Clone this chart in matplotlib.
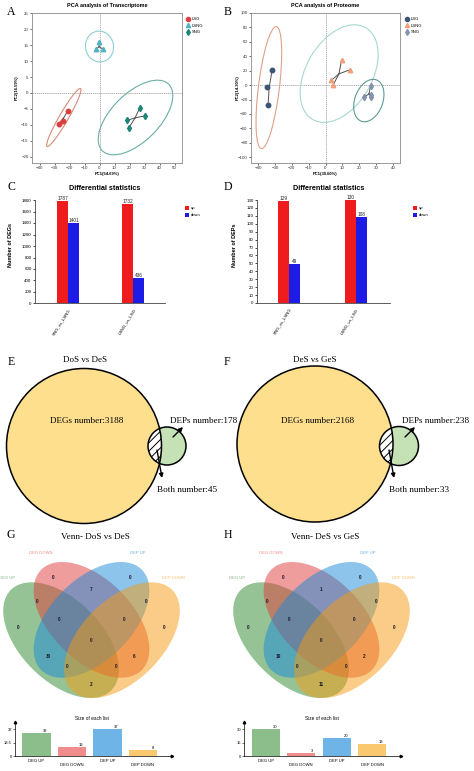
import numpy as np
import matplotlib
matplotlib.use('Agg')
import matplotlib.pyplot as plt
from matplotlib.patches import Ellipse, Circle
from matplotlib.transforms import ScaledTranslation
from matplotlib.lines import Line2D

plt.rcParams['font.family'] = ['Liberation Sans', 'DejaVu Sans']
plt.rcParams['hatch.linewidth'] = 0.7
SERIF = ['Liberation Serif', 'DejaVu Serif']

W, H = 474, 771

# ---------------- data ----------------
groups = ['LSG', 'LSNG', 'SNG']

# A: PCA transcriptome
tr_x = {'LSG': [-27.0, -24.5, -21.0], 'LSNG': [-0.5, -2.5, 2.3], 'SNG': [26.9, 30.0, 18.4, 19.6]}
tr_y = {'LSG': [-9.7, -8.8, -5.5], 'LSNG': [16.0, 13.8, 13.8], 'SNG': [-4.6, -7.2, -8.6, -10.9]}
tr_ell_c = {'LSG': (-23.8, -7.7), 'LSNG': (0.0, 14.6), 'SNG': (24.0, -7.7)}
tr_ell_s = {'LSG': (67, 9, 60), 'LSNG': (28, 31, 10), 'SNG': (94, 48, 45)}

# B: PCA proteome
pr_x = {'LSG': [-31.7, -34.5, -34.1], 'LSNG': [9.5, 14.5, 3.4, 4.6], 'SNG': [26.7, 26.7, 26.9, 22.8]}
pr_y = {'LSG': [20.4, -3.2, -27.8], 'LSNG': [34.3, 21.3, 6.5, 0.5], 'SNG': [-1.9, -13.4, -17.0, -16.7]}
pr_ell_c = {'LSG': (-33.6, -3.5), 'LSNG': (8.1, 16.0), 'SNG': (25.7, -21.4)}
pr_ell_s = {'LSG': (123, 21, 83), 'LSNG': (106, 66, 60), 'SNG': (44, 28, 70)}

# C/D: differential statistics
comparisons = ['SNG_vs_LSNG', 'LSNG_vs_LSG']
deg_up = [1787, 1732]
deg_down = [1401, 436]
dep_up = [129, 130]
dep_down = [49, 108]

# E/F: overlap of DEGs and DEPs
overlap_titles = ['DoS vs DeS', 'DeS vs GeS']
degs_number = [3188, 2168]
deps_number = [178, 238]
both_number = [45, 33]

# G/H: four-set venn
venn_titles = ['Venn- DoS vs DeS', 'Venn- DeS vs GeS']
list_names = ['DEG UP', 'DEG DOWN', 'DEP UP', 'DEP DOWN']
regions = ['G', 'R', 'B', 'O', 'GR', 'GB', 'GO', 'RB', 'RO', 'BO', 'GRB', 'GRO', 'GBO', 'RBO', 'GRBO']
venn_g_counts = [0, 0, 0, 0, 0, 30, 2, 7, 6, 0, 0, 0, 0, 0, 0]
venn_h_counts = [0, 0, 0, 0, 0, 19, 11, 1, 2, 0, 0, 0, 0, 0, 0]
g_sizes = [32, 13, 37, 8]
h_sizes = [30, 3, 20, 13]

# ---------------- helpers ----------------
fig = plt.figure(figsize=(W / 100, H / 100), dpi=100)


def box(x0, y0, x1, y1):
    return [x0 / W, 1 - y1 / H, (x1 - x0) / W, (y1 - y0) / H]


def ftext(x, y, s, **kw):
    kw.setdefault('ha', 'center')
    kw.setdefault('va', 'center')
    return fig.text(x / W, 1 - y / H, s, **kw)


def pca_panel(ax, xs, ys, ell_c, ell_s, pt_col, ell_col, markers, xlim, ylim, xt, yt):
    ax.axhline(0, color='#9a9a9a', lw=0.5, ls=(0, (2, 1)), zorder=0)
    ax.axvline(0, color='#9a9a9a', lw=0.5, ls=(0, (2, 1)), zorder=0)
    for g in groups:
        cx, cy = ell_c[g]
        w, h, a = ell_s[g]
        tr = fig.dpi_scale_trans + ScaledTranslation(cx, cy, ax.transData)
        ax.add_patch(Ellipse((0, 0), w / 100, h / 100, angle=a, transform=tr,
                             fill=False, ec=ell_col[g], lw=0.8))
        mx, my = np.mean(xs[g]), np.mean(ys[g])
        for x, y in zip(xs[g], ys[g]):
            ax.plot([mx, x], [my, y], color='#505050', lw=0.7, zorder=2)
        ax.plot(xs[g], ys[g], ls='none', marker=markers[g], color=pt_col[g], ms=3.2, zorder=3)
    ax.set_xlim(*xlim)
    ax.set_ylim(*ylim)
    ax.set_xticks(xt)
    ax.set_yticks(yt)
    ax.tick_params(labelsize=3.2, length=1.5, width=0.5, pad=1, colors='#333333')
    for s in ax.spines.values():
        s.set_color('#8a8a8a')
        s.set_linewidth(0.6)


markers = {'LSG': 'o', 'LSNG': '^', 'SNG': 'd'}

# ---------------- A ----------------
axA = fig.add_axes(box(32, 12.5, 182, 163))
colA = {'LSG': '#d8413c', 'LSNG': '#4fb2c6', 'SNG': '#1c8676'}
ecolA = {'LSG': '#d98a78', 'LSNG': '#8fcfcf', 'SNG': '#6aaea4'}
pca_panel(axA, tr_x, tr_y, tr_ell_c, tr_ell_s, colA, ecolA, markers,
          (-45, 55), (-22, 25.3), range(-40, 51, 10), range(-20, 26, 5))
ftext(107, 6, 'PCA analysis of Transcriptome', fontsize=4, fontweight='bold')
ftext(107, 174, 'PC1(54.69%)', fontsize=3, fontweight='bold')
ftext(17, 88, 'PC2(16.59%)', fontsize=3, fontweight='bold', rotation=90)
axA.legend([Line2D([], [], ls='none', marker=markers[g], color=colA[g], ms=3) for g in groups],
           groups, loc='upper left', bbox_to_anchor=(184 / W, 1 - 15 / H),
           bbox_transform=fig.transFigure, frameon=False, fontsize=3,
           handlelength=1, handletextpad=0.4, labelspacing=0.6, borderpad=0)

# ---------------- B ----------------
axB = fig.add_axes(box(251, 13, 400, 163))
colB = {'LSG': '#3b5575', 'LSNG': '#f0a07a', 'SNG': '#8592ad'}
ecolB = {'LSG': '#e0a08a', 'LSNG': '#a8d8d0', 'SNG': '#5d9c94'}
pca_panel(axB, pr_x, pr_y, pr_ell_c, pr_ell_s, colB, ecolB, markers,
          (-44.2, 44.2), (-108, 100), range(-40, 41, 10), range(-100, 101, 20))
ftext(325, 6, 'PCA analysis of Proteome', fontsize=4, fontweight='bold')
ftext(325, 174, 'PC1(30.60%)', fontsize=3, fontweight='bold')
ftext(238, 88, 'PC2(14.30%)', fontsize=3, fontweight='bold', rotation=90)
axB.legend([Line2D([], [], ls='none', marker=markers[g], color=colB[g], ms=3) for g in groups],
           groups, loc='upper left', bbox_to_anchor=(403 / W, 1 - 15 / H),
           bbox_transform=fig.transFigure, frameon=False, fontsize=3,
           handlelength=1, handletextpad=0.4, labelspacing=0.6, borderpad=0)


# ---------------- C / D ----------------
def diff_panel(ax, up, down, ymax, step, xlim, legend_x):
    x = np.arange(len(comparisons))
    w = 0.165
    b1 = ax.bar(x - w / 2, up, w, color='#ee1c1c', label='up', clip_on=False)
    b2 = ax.bar(x + w / 2, down, w, color='#1c1ce6', label='down', clip_on=False)
    for bars, vals in ((b1, up), (b2, down)):
        for r, v in zip(bars, vals):
            ax.text(r.get_x() + r.get_width() / 2, v, str(v), ha='center', va='bottom',
                    fontsize=3.4, color='#222222')
    ax.set_xlim(*xlim)
    ax.set_ylim(0, ymax)
    ax.set_yticks(np.arange(0, ymax + 1, step))
    ax.set_xticks(x)
    ax.set_xticklabels(comparisons, rotation=58, ha='right', rotation_mode='anchor')
    ax.tick_params(axis='y', labelsize=3.2, length=1.5, width=0.5, pad=1)
    ax.tick_params(axis='x', labelsize=3.2, length=0, pad=3)
    ax.spines[['top', 'right']].set_visible(False)
    for s in ('left', 'bottom'):
        ax.spines[s].set_linewidth(0.6)
        ax.spines[s].set_color('#444444')
    ax.legend(loc='upper left', bbox_to_anchor=(legend_x / W, 1 - 204 / H),
              bbox_transform=fig.transFigure, frameon=False, fontsize=3,
              handlelength=0.9, handleheight=0.9, handletextpad=0.4, labelspacing=0.7, borderpad=0)


axC = fig.add_axes(box(35, 200, 165, 303.5))
diff_panel(axC, deg_up, deg_down, 1800, 200, (-0.51, 1.49), 183)
ftext(105, 188, 'Differential statistics', fontsize=5.2, fontweight='bold')
ftext(11, 245, 'Number of DEGs', fontsize=4, fontweight='bold', rotation=90)

axD = fig.add_axes(box(257, 200, 390, 303))
diff_panel(axD, dep_up, dep_down, 130, 10, (-0.48, 1.51), 411)
ftext(329, 188, 'Differential statistics', fontsize=5.2, fontweight='bold')
ftext(234, 245, 'Number of DEPs', fontsize=4, fontweight='bold', rotation=90)

# ---------------- E / F ----------------
axEF = fig.add_axes([0, 0, 1, 1])
axEF.set_xlim(0, W)
axEF.set_ylim(H, 0)
axEF.axis('off')
axEF.patch.set_visible(False)

ef_big = [(84, 446, 77.5), (315, 444, 78)]
ef_small = [(167, 446, 19), (399, 446, 19.5)]
ef_title_x = [85, 315]
for i in range(2):
    bx, by, br = ef_big[i]
    sx, sy, sr = ef_small[i]
    big = Circle((bx, by), br, fc='#fddf8e', ec='none')
    axEF.add_patch(big)
    axEF.add_patch(Circle((sx, sy), sr, fc='#c5e1b6', ec='none'))
    lens = Circle((sx, sy), sr, fc='white', ec='black', hatch='////', lw=0)
    axEF.add_patch(lens)
    lens.set_clip_path(big)
    axEF.add_patch(Circle((bx, by), br, fill=False, ec='black', lw=1.1))
    axEF.add_patch(Circle((sx, sy), sr, fill=False, ec='black', lw=1.1))
    axEF.text(ef_title_x[i], 360, overlap_titles[i], family=SERIF, fontsize=6.5, ha='center', va='center')
    axEF.text(bx + 3, 421, f'DEGs number:{degs_number[i]}', family=SERIF, fontsize=6.6,
              ha='center', va='center')
    axEF.text(sx + 3, 421, f'DEPs number:{deps_number[i]}', family=SERIF, fontsize=6.6,
              ha='left', va='center')
    axEF.text(sx - 10, 490, f'Both number:{both_number[i]}', family=SERIF, fontsize=6.6,
              ha='left', va='center')
    axEF.annotate('', xy=(sx + 16, sy - 19), xytext=(sx + 6, sy - 9),
                  arrowprops=dict(arrowstyle='-|>', color='black', lw=1, mutation_scale=6,
                                  shrinkA=0, shrinkB=0))
    axEF.annotate('', xy=(sx - 5, 478), xytext=(sx - 10, 450),
                  arrowprops=dict(arrowstyle='-|>', color='black', lw=1, mutation_scale=6,
                                  shrinkA=0, shrinkB=0))

# ---------------- G / H ----------------
ell_pos = [(0.35, 0.47, -45), (0.50, 0.57, -45), (0.50, 0.57, 45), (0.65, 0.47, 45)]
ell_col = ['#2e892e', '#e03a3a', '#1a8ad8', '#f69b10']
lbl_col = ['#7fb27f', '#ef8a8a', '#6ab0de', '#f5c070']
region_xy = {'G': (0.14, 0.53), 'R': (0.31, 0.78), 'B': (0.69, 0.78), 'O': (0.86, 0.53),
             'GR': (0.23, 0.66), 'BO': (0.77, 0.66), 'GB': (0.29, 0.39), 'RO': (0.71, 0.39),
             'GRB': (0.34, 0.57), 'RBO': (0.66, 0.57), 'GBO': (0.38, 0.34), 'GRO': (0.62, 0.34),
             'RB': (0.5, 0.72), 'GRBO': (0.5, 0.47), 'GO': (0.5, 0.25)}
label_xy = [(0.085, 0.776), (0.252, 0.899), (0.73, 0.899), (0.902, 0.776)]


def venn_panel(ax, counts):
    for (cx, cy, a), c in zip(ell_pos, ell_col):
        ax.add_patch(Ellipse((cx, cy), 0.70, 0.40, angle=a, fc=c, ec='none', alpha=0.5))
    for r, n in zip(regions, counts):
        ax.text(*region_xy[r], str(n), fontsize=3.4, fontweight='bold', color='#1a1a2a',
                ha='center', va='center')
    for (lx, ly), name, c in zip(label_xy, list_names, lbl_col):
        ax.text(lx, ly, name, fontsize=3, color=c, ha='center', va='center', clip_on=False)
    ax.set_xlim(0.065, 0.935)
    ax.set_ylim(0.185, 0.855)
    ax.set_aspect('equal')
    ax.axis('off')


bar_col = ['#8cbe8c', '#f28c8c', '#6eb4e6', '#fac86e']


def size_panel(ax, sizes, ytop, yt, xlim):
    x = np.arange(len(list_names))
    bars = ax.bar(x, sizes, 0.8, color=bar_col)
    for r, v in zip(bars, sizes):
        ax.text(r.get_x() + r.get_width() - 0.08, v, str(v), fontsize=3, ha='right', va='bottom')
    ax.set_xlim(*xlim)
    ax.set_ylim(0, ytop)
    ax.set_yticks(yt)
    ax.set_yticklabels([f'{t:g}' for t in yt])
    ax.set_xticks(x)
    ax.set_xticklabels(list_names)
    for i, t in enumerate(ax.get_xticklabels()):
        t.set_y(0 if i % 2 == 0 else -0.12)
    ax.tick_params(labelsize=3, length=1.2, width=0.4, pad=1)
    ax.tick_params(axis='x', length=0, pad=2)
    ax.spines[['top', 'right']].set_visible(False)
    for s in ('left', 'bottom'):
        ax.spines[s].set_linewidth(0.5)
    ax.plot(1, 0, '>', color='black', ms=1.8, transform=ax.transAxes, clip_on=False)
    ax.plot(0, 1, '^', color='black', ms=1.8, transform=ax.transAxes, clip_on=False)


axG = fig.add_axes(box(3, 562, 180, 698))
venn_panel(axG, venn_g_counts)
ftext(95, 537, venn_titles[0], family=SERIF, fontsize=6.6)
axGb = fig.add_axes(box(15, 722, 172, 756))
size_panel(axGb, g_sizes, 46.6, [0, 18.5, 37], (-0.6, 3.82))
ftext(92, 719, 'Size of each list', fontsize=3.4)

axH = fig.add_axes(box(233, 562, 410, 698))
venn_panel(axH, venn_h_counts)
ftext(325, 537, venn_titles[1], family=SERIF, fontsize=6.6)
axHb = fig.add_axes(box(244, 722, 401, 756))
size_panel(axHb, h_sizes, 37.8, [0, 15, 30], (-0.62, 3.82))
ftext(322, 719, 'Size of each list', fontsize=3.4)

# ---------------- panel letters ----------------
for lt, (x, y) in zip('ABCDEFGH', [(11, 12), (228, 12), (11, 187), (228, 187),
                                   (11, 362), (227, 362), (11, 535), (228, 535)]):
    ftext(x, y, lt, family=SERIF, fontsize=8.5)

fig.savefig('out.png', dpi=100)
